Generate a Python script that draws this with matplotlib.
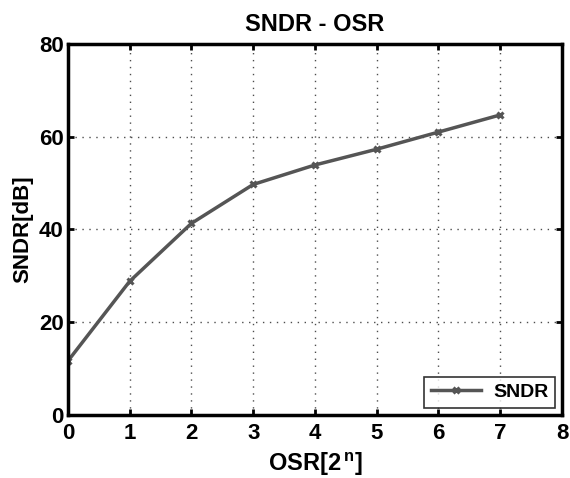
import numpy as np
import matplotlib
matplotlib.use('Agg')
import matplotlib.pyplot as plt

plt.rcParams['font.family'] = ['Liberation Sans', 'DejaVu Sans']
plt.rcParams['font.weight'] = 'bold'
plt.rcParams['mathtext.fontset'] = 'custom'
plt.rcParams['mathtext.bf'] = 'Liberation Sans:bold'
plt.rcParams['mathtext.rm'] = 'Liberation Sans:bold'

osr = [0, 1, 2, 3, 4, 5, 6, 7]
sndr = [11.6, 28.8, 41.3, 49.7, 53.9, 57.3, 61.0, 64.7]

fig = plt.figure(figsize=(5.7, 4.78), dpi=100)
ax = fig.add_axes([0.119, 0.132, 0.867, 0.776])

ax.plot(osr, sndr, color='#555555', lw=2.5, marker='x', ms=5, mew=2.2, label='SNDR')

ax.set_xlim(0, 8)
ax.set_ylim(0, 80)
ax.set_xticks(range(0, 9))
ax.set_yticks([0, 20, 40, 60, 80])
ax.grid(True, color='0.3', linestyle=(0, (1, 4)), linewidth=1.0)

for s in ax.spines.values():
    s.set_linewidth(2.5)
ax.tick_params(direction='in', length=4, width=2, labelsize=16,
               top=True, right=True)
ax.tick_params(axis='x', pad=6)
ax.tick_params(axis='y', pad=3)
for lab in ax.get_xticklabels() + ax.get_yticklabels():
    lab.set_fontweight('bold')

ax.set_title('SNDR - OSR', fontsize=17, fontweight='bold', pad=9)
ax.set_xlabel('OSR[2$^{\\,\\mathrm{n}}$]', fontsize=17, fontweight='bold', labelpad=4)
ax.set_ylabel('SNDR[dB]', fontsize=16, fontweight='bold', labelpad=4)

leg = ax.legend(loc='lower right', fontsize=14, fancybox=False, edgecolor='black',
                borderaxespad=0.35, handlelength=2.6, borderpad=0.35,
                handletextpad=0.6)
leg.get_frame().set_linewidth(1.2)
for t in leg.get_texts():
    t.set_fontweight('bold')

fig.savefig('out.png', dpi=100)
